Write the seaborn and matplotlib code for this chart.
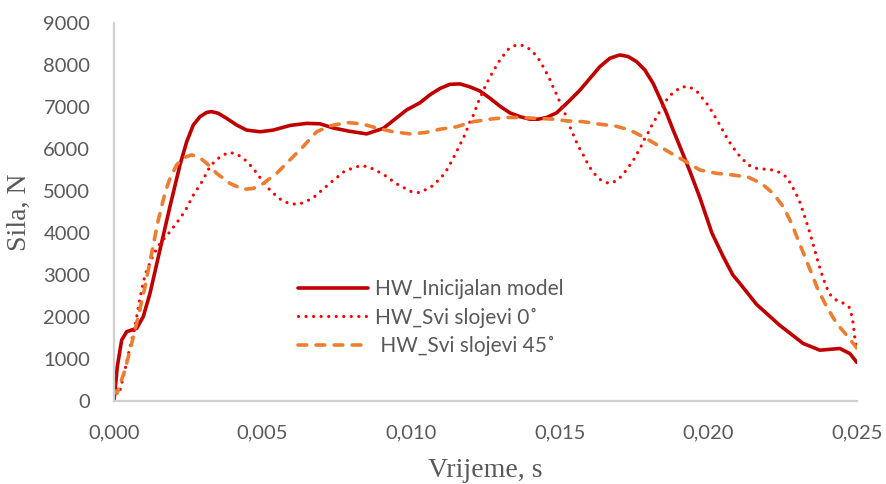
import numpy as np
import pandas as pd
import seaborn as sns
import matplotlib
matplotlib.use("Agg")
import matplotlib.pyplot as plt
from matplotlib.ticker import FuncFormatter

# Time (ms) and force (N) for each simulation case
t_initial_ms = [0.000, 0.111, 0.259, 0.427, 0.764, 0.986, 1.211, 1.548, 1.884, 2.221,
                2.446, 2.668, 2.894, 3.119, 3.287, 3.509, 3.792, 4.128, 4.465, 4.912,
                5.360, 5.922, 6.484, 6.931, 7.379, 7.941, 8.503, 9.061, 9.849, 10.296,
                10.632, 10.969, 11.305, 11.642, 11.978, 12.315, 12.651, 12.988, 13.324, 13.661,
                13.997, 14.276, 14.559, 14.896, 15.343, 15.679, 16.016, 16.352, 16.689, 17.025,
                17.305, 17.587, 17.867, 18.146, 18.372, 18.597, 18.819, 19.045, 19.381, 19.718,
                20.122, 20.501, 20.828, 21.063, 21.625, 22.409, 23.193, 23.755, 24.428, 24.764,
                25.000]
f_initial = [0, 815, 1450, 1650, 1730, 2010, 2560, 3600, 4630, 5620,
             6170, 6570, 6770, 6870, 6890, 6850, 6730, 6570, 6450, 6410,
             6450, 6560, 6610, 6600, 6500, 6420, 6360, 6490, 6930, 7100,
             7290, 7440, 7540, 7550, 7480, 7380, 7210, 7020, 6860, 6770,
             6710, 6710, 6750, 6860, 7160, 7400, 7680, 7960, 8160, 8240,
             8200, 8080, 7880, 7560, 7210, 6850, 6450, 6060, 5470, 4840,
             4000, 3440, 3000, 2800, 2300, 1800, 1370, 1210, 1250, 1130,
             920]

t_layers0_ms = [0.000, 0.067, 0.178, 0.370, 0.538, 0.707, 0.875, 1.043, 1.322, 1.548,
                1.884, 2.120, 2.389, 2.668, 2.951, 3.230, 3.398, 3.624, 3.880, 4.128,
                4.351, 4.553, 4.744, 4.889, 5.081, 5.249, 5.451, 5.676, 5.922, 6.201,
                6.460, 6.706, 7.325, 7.772, 8.277, 8.556, 9.061, 9.512, 10.017, 10.296,
                10.743, 11.137, 11.416, 11.642, 11.776, 11.887, 11.978, 12.113, 12.204, 12.315,
                12.540, 12.675, 12.819, 12.954, 13.122, 13.301, 13.550, 13.795, 14.031, 14.223,
                14.367, 14.502, 14.636, 14.747, 14.862, 14.973, 15.084, 15.198, 15.286, 15.400,
                15.511, 15.622, 15.791, 15.993, 16.184, 16.386, 16.655, 16.914, 17.116, 17.453,
                17.722, 17.833, 17.978, 18.092, 18.237, 18.372, 18.516, 18.651, 18.853, 19.101,
                19.357, 19.606, 19.942, 20.110, 20.390, 20.669, 20.972, 21.342, 21.625, 22.163,
                22.409, 22.634, 22.803, 23.049, 23.227, 23.395, 23.553, 23.698, 23.866, 24.068,
                24.260, 24.519, 24.741, 24.822, 24.876, 24.933, 25.000]
f_layers0 = [600, 380, 180, 740, 1290, 1770, 2450, 3000, 3480, 3750,
             4030, 4250, 4520, 4900, 5210, 5580, 5710, 5840, 5920, 5880,
             5780, 5640, 5480, 5340, 5180, 5020, 4890, 4760, 4700, 4680,
             4750, 4840, 5220, 5480, 5600, 5580, 5400, 5170, 4980, 4960,
             5130, 5420, 5780, 6100, 6290, 6480, 6650, 6830, 7020, 7210,
             7560, 7740, 7920, 8080, 8240, 8400, 8480, 8460, 8360, 8210,
             8060, 7880, 7710, 7520, 7350, 7170, 6990, 6810, 6610, 6440,
             6250, 6070, 5860, 5580, 5400, 5260, 5180, 5240, 5380, 5700,
             6040, 6210, 6390, 6550, 6730, 6900, 7070, 7230, 7360, 7480,
             7480, 7380, 7090, 6910, 6570, 6210, 5900, 5620, 5540, 5500,
             5440, 5330, 5140, 4800, 4430, 4060, 3670, 3300, 2920, 2560,
             2420, 2340, 2230, 2050, 1850, 1500, 1280]

t_layers45_ms = [0.000, 0.101, 0.370, 0.596, 0.818, 1.043, 1.268, 1.491, 1.716, 1.884,
                 2.110, 2.332, 2.614, 2.894, 3.119, 3.456, 3.903, 4.351, 4.687, 5.024,
                 5.474, 5.922, 6.369, 6.820, 7.268, 7.830, 8.334, 8.893, 9.398, 9.960,
                 10.464, 10.969, 11.531, 12.089, 12.651, 13.213, 13.661, 14.223, 14.781, 15.232,
                 15.791, 16.352, 16.857, 17.362, 17.809, 18.203, 18.482, 18.819, 19.246, 19.716,
                 20.279, 20.838, 21.342, 21.793, 22.183, 22.520, 22.803, 23.025, 23.250, 23.476,
                 23.698, 23.981, 24.317, 24.653, 25.000]
f_layers45 = [250, 180, 740, 1370, 2010, 2720, 3520, 4310, 4950, 5300,
              5620, 5790, 5860, 5790, 5660, 5420, 5180, 5040, 5060, 5180,
              5420, 5740, 6060, 6410, 6550, 6630, 6600, 6490, 6410, 6360,
              6390, 6470, 6530, 6650, 6710, 6750, 6750, 6730, 6710, 6670,
              6650, 6590, 6550, 6450, 6290, 6130, 6010, 5870, 5700, 5500,
              5420, 5380, 5330, 5180, 4940, 4630, 4230, 3830, 3440, 3040,
              2640, 2250, 1850, 1570, 1260]

series_names = ["HW_Inicijalan model", "HW_Svi slojevi 0˚", " HW_Svi slojevi 45˚"]
series_colors = ["#C00000", "#FF0000", "#ED7D31"]

x_ticks = [0.0, 0.005, 0.010, 0.015, 0.020, 0.025]
y_ticks = [0, 1000, 2000, 3000, 4000, 5000, 6000, 7000, 8000, 9000]

sns.set_theme(style="white")
plt.rcParams["font.family"] = ["Lato", "DejaVu Sans"]

fig = plt.figure(figsize=(8.87, 4.84), dpi=100)
ax = fig.add_axes([0.1285, 0.1715, 0.8375, 0.781])


def to_frame(t_ms, force):
    return pd.DataFrame({"t": np.asarray(t_ms) / 1000.0, "F": force})


sns.lineplot(data=to_frame(t_initial_ms, f_initial), x="t", y="F", ax=ax,
             color=series_colors[0], linewidth=2.6, solid_capstyle="round",
             solid_joinstyle="round", label=series_names[0])
sns.lineplot(data=to_frame(t_layers0_ms, f_layers0), x="t", y="F", ax=ax,
             color=series_colors[1], linewidth=2.3, label=series_names[1])
sns.lineplot(data=to_frame(t_layers45_ms, f_layers45), x="t", y="F", ax=ax,
             color=series_colors[2], linewidth=2.6, label=series_names[2])

lines = ax.get_lines()
lines[1].set_dashes((0.01, 2.35))
lines[1].set_dash_capstyle("round")
lines[2].set_dashes((2.4, 2.6))
lines[2].set_dash_capstyle("round")
lines[2].set_dash_joinstyle("round")

ax.set_xlim(0, 0.025)
ax.set_ylim(0, 9000)
ax.set_xticks(x_ticks)
ax.set_yticks(y_ticks)
ax.xaxis.set_major_formatter(FuncFormatter(lambda v, p: f"{v:.3f}".replace(".", ",")))
ax.yaxis.set_major_formatter(FuncFormatter(lambda v, p: f"{int(round(v))}"))

tick_color = "#595959"
ax.tick_params(axis="both", labelsize=14.5, colors=tick_color, length=0)
ax.tick_params(axis="x", pad=17)
ax.tick_params(axis="y", pad=17)

for side in ["top", "right"]:
    ax.spines[side].set_visible(False)
for side in ["left", "bottom"]:
    ax.spines[side].set_color("#D0D0D0")
    ax.spines[side].set_linewidth(1.6)

ax.set_xlabel("Vrijeme, s", family="Liberation Serif", fontsize=20, color=tick_color)
ax.set_ylabel("Sila, N", family="Liberation Serif", fontsize=20, color=tick_color)
ax.xaxis.set_label_coords(0.5, -0.150)
ax.yaxis.set_label_coords(-0.111, 0.5)

leg = ax.legend(loc="upper left", bbox_to_anchor=(0.2476, 0.322), frameon=False,
                fontsize=15, handlelength=3.37, handletextpad=0.34, labelspacing=0.4,
                borderpad=0.0, borderaxespad=0.0)
for txt in leg.get_texts():
    txt.set_color(tick_color)

fig.savefig("out.png", dpi=100)
